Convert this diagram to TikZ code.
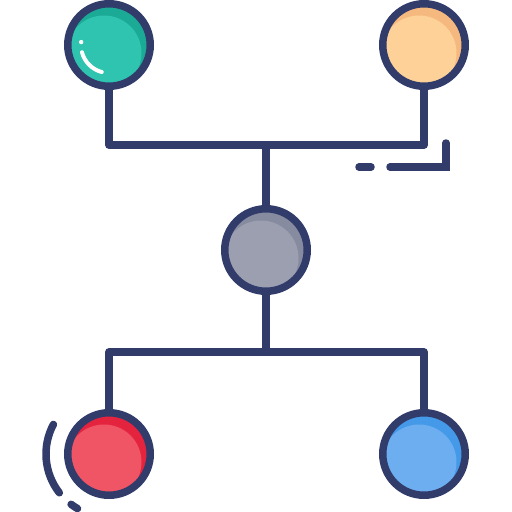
\documentclass[tikz,border=0pt]{standalone}
\usepackage{tikz}
\usetikzlibrary{calc}

\definecolor{navy}{HTML}{323C6B}
\definecolor{tealD}{HTML}{1BAA95}
\definecolor{tealL}{HTML}{2EC4B0}
\definecolor{peachD}{HTML}{F5B97F}
\definecolor{peachL}{HTML}{FDD198}
\definecolor{greyD}{HTML}{868B9F}
\definecolor{greyL}{HTML}{9B9FB0}
\definecolor{redD}{HTML}{E4233F}
\definecolor{redL}{HTML}{F05566}
\definecolor{blueD}{HTML}{4499E8}
\definecolor{blueL}{HTML}{6CAEF0}

\tikzset{
    wire/.style={draw=navy, line width=7.5pt, line join=round},
    mark line/.style={draw=navy, line width=7.5pt, line cap=round},
    ball/.style 2 args={circle, draw=navy, line width=7.5pt, fill=#1,
        minimum size=82.5pt, inner sep=0pt,
        path picture={\fill[#2] ($(path picture bounding box.center)+(-5pt,-8pt)$) circle (37.5pt);}}
}

\begin{document}
\begin{tikzpicture}[x=1pt, y=-1pt]
    \useasboundingbox (0,0) rectangle (512,512);

    % Hubs where the branches meet
    \coordinate (hubT) at (266,145);
    \coordinate (hubB) at (266,352);

    % Draw Connectors first (circles sit on top)
    \draw[wire] (109,45) |- (hubT) -| (424,45);
    \draw[wire] (109,454) |- (hubB) -| (424,454);
    \draw[wire] (hubT) -- (hubB);

    % Draw Circles
    \node[ball={tealD}{tealL}]   (tl)  at (109,45)  {};
    \node[ball={peachD}{peachL}] (tr)  at (424,45)  {};
    \node[ball={greyD}{greyL}]   (mid) at (266,250) {};
    \node[ball={redD}{redL}]     (bl)  at (109,454) {};
    \node[ball={blueD}{blueL}]   (br)  at (424,454) {};

    % Shine on the teal one
    \draw[white, line width=4pt, line cap=round]
        ([shift={(195:28pt)}]tl.center) arc[start angle=195, end angle=255, radius=28pt];
    \fill[white] ([shift={(174:28pt)}]tl.center) circle (2.2pt);

    % Decorative marks
    % -- top right
    \draw[mark line] (359,167) -- (371,167);
    \draw[mark line] (390,167) -- (446,167) -- (446,143);
    % -- bottom left
    \draw[mark line] ([shift={(152:63pt)}]bl.center) arc[start angle=152, end angle=218, radius=63pt];
    \draw[mark line] ([shift={(233:63pt)}]bl.center) arc[start angle=233, end angle=240, radius=63pt];
\end{tikzpicture}
\end{document}
